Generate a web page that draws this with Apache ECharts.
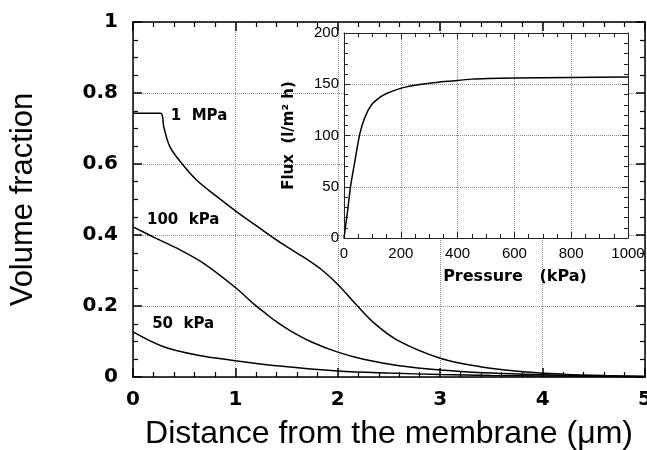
<!DOCTYPE html>
<html>
<head>
<meta charset="utf-8">
<script src="https://cdn.jsdelivr.net/npm/echarts@6/dist/echarts.min.js"></script>
<style>
  html, body { margin: 0; padding: 0; background: #fff; }
  #main { width: 647px; height: 450px; }
</style>
</head>
<body>
<div id="main"></div>
<script>
// volume fraction profiles (distance in um)
var dist1MPa = [0, 0.27, 0.3, 0.36, 0.475, 0.62, 0.82, 1.01, 1.2, 1.4, 1.54, 1.7, 1.86, 2.01, 2.17, 2.35, 2.58, 3.0, 3.39, 3.81, 4.2, 4.6, 5.0];
var vol1MPa = [0.743, 0.743, 0.705, 0.649, 0.602, 0.555, 0.508, 0.466, 0.427, 0.386, 0.360, 0.331, 0.298, 0.258, 0.207, 0.153, 0.104, 0.053, 0.029, 0.015, 0.008, 0.004, 0.002];

var dist100kPa = [0, 0.23, 0.46, 0.69, 1.0, 1.19, 1.3, 1.4, 1.55, 1.75, 2.0, 2.25, 2.6, 3.0, 3.5, 4.0, 4.5, 5.0];
var vol100kPa = [0.423, 0.39, 0.358, 0.32, 0.252, 0.203, 0.178, 0.156, 0.128, 0.098, 0.07, 0.05, 0.032, 0.02, 0.011, 0.006, 0.003, 0.001];

var dist50kPa = [0, 0.3, 0.62, 1.0, 1.43, 2.0, 2.5, 3.0, 3.5, 4.0, 4.5, 5.0];
var vol50kPa = [0.127, 0.085, 0.062, 0.046, 0.031, 0.017, 0.011, 0.007, 0.004, 0.003, 0.002, 0.001];

// inset: flux vs pressure
var pressure = [0, 12, 23, 39, 56, 74, 97, 125, 150, 199, 250, 302, 373, 450, 600, 800, 1000];
var flux = [0, 25, 50, 76, 102, 118, 130, 137, 141, 146, 149, 151, 153, 155, 156, 156.5, 157];

var curveNames = ['1  MPa', '100  kPa', '50  kPa'];
var labelAt = [[0.645, 0.735], [0.49, 0.442], [0.49, 0.149]];

var BOLD = '"DejaVu Sans", sans-serif';
var REG = '"Liberation Sans", Arial, sans-serif';

function pairs(xs, ys) {
  return xs.map(function (x, i) { return [x, ys[i]]; });
}

function frameAxis(extra) {
  var a = {
    axisLine: { show: true, onZero: false, lineStyle: { color: '#000', width: 1.5 } },
    axisTick: { show: true, inside: true, length: 9, lineStyle: { color: '#000', width: 1.5 } },
    minorTick: { show: true, length: 5, lineStyle: { color: '#000', width: 1.2 } },
    axisLabel: { show: false },
    splitLine: { show: false }
  };
  return Object.assign(a, extra);
}

function insetAxis(extra) {
  var a = {
    gridIndex: 1,
    z: 6,
    axisLine: { show: true, onZero: false, lineStyle: { color: '#222', width: 1 } },
    axisTick: { show: true, inside: true, length: 6, lineStyle: { color: '#222', width: 1 } },
    minorTick: { show: true, length: 4, lineStyle: { color: '#222', width: 1 } },
    axisLabel: { show: false },
    splitLine: { show: false }
  };
  return Object.assign(a, extra);
}

var dotted = { show: true, lineStyle: { color: '#888', type: 'dotted', width: 1 } };

var chart = echarts.init(document.getElementById('main'));

var option = {
  animation: false,
  backgroundColor: '#fff',
  grid: [
    { left: 133, top: 22, width: 512, height: 355, outerBoundsMode: 'none', containLabel: false },
    { left: 344, top: 33, width: 284, height: 205, outerBoundsMode: 'none', containLabel: false,
      show: true, backgroundColor: '#fff', borderWidth: 0, z: 5 }
  ],
  xAxis: [
    frameAxis({
      type: 'value', min: 0, max: 5, interval: 1, position: 'bottom',
      minorTick: { show: true, splitNumber: 5, length: 5, lineStyle: { color: '#000', width: 1.2 } },
      axisLabel: { show: true, margin: 13, color: '#000', fontFamily: BOLD, fontWeight: 'bold', fontSize: 20 },
      splitLine: dotted,
      name: 'Distance from the membrane (\u03bcm)',
      nameLocation: 'middle',
      nameGap: 41,
      nameTextStyle: { color: '#000', fontFamily: REG, fontSize: 32 }
    }),
    frameAxis({
      type: 'value', min: 0, max: 5, interval: 1, position: 'top',
      minorTick: { show: true, splitNumber: 5, length: 5, lineStyle: { color: '#000', width: 1.2 } }
    }),
    insetAxis({
      type: 'value', min: 0, max: 1000, interval: 200, position: 'bottom',
      minorTick: { show: true, splitNumber: 4, length: 4, lineStyle: { color: '#222', width: 1 } },
      axisLabel: {
        show: true, margin: 8, color: '#000', fontFamily: REG, fontSize: 15, showMaxLabel: true,
        formatter: function (v) { return String(v); }
      },
      splitLine: dotted,
      name: 'Pressure   (kPa)',
      nameLocation: 'middle',
      nameGap: 31,
      nameTextStyle: { color: '#000', fontFamily: BOLD, fontWeight: 'bold', fontSize: 16, padding: [0, 0, 0, 58] }
    }),
    insetAxis({
      type: 'value', min: 0, max: 1000, interval: 200, position: 'top',
      minorTick: { show: true, splitNumber: 4, length: 4, lineStyle: { color: '#222', width: 1 } }
    })
  ],
  yAxis: [
    frameAxis({
      type: 'value', min: 0, max: 1, interval: 0.2, position: 'left',
      minorTick: { show: true, splitNumber: 4, length: 5, lineStyle: { color: '#000', width: 1.2 } },
      axisLabel: { show: true, margin: 15, color: '#000', fontFamily: BOLD, fontWeight: 'bold', fontSize: 20 },
      splitLine: dotted,
      name: 'Volume fraction',
      nameLocation: 'middle',
      nameGap: 94,
      nameTextStyle: { color: '#000', fontFamily: REG, fontSize: 31 }
    }),
    frameAxis({
      type: 'value', min: 0, max: 1, interval: 0.2, position: 'right',
      minorTick: { show: true, splitNumber: 4, length: 5, lineStyle: { color: '#000', width: 1.2 } }
    }),
    insetAxis({
      type: 'value', min: 0, max: 200, interval: 50, position: 'left',
      minorTick: { show: true, splitNumber: 5, length: 4, lineStyle: { color: '#222', width: 1 } },
      axisLabel: { show: true, margin: 5, color: '#000', fontFamily: REG, fontSize: 15 },
      splitLine: dotted,
      name: 'Flux  (l/m\u00b2 h)',
      nameLocation: 'middle',
      nameGap: 47,
      nameTextStyle: { color: '#000', fontFamily: BOLD, fontWeight: 'bold', fontSize: 15 }
    }),
    insetAxis({
      type: 'value', min: 0, max: 200, interval: 50, position: 'right',
      minorTick: { show: true, splitNumber: 5, length: 4, lineStyle: { color: '#222', width: 1 } }
    })
  ],
  series: []
};

var profiles = [[dist1MPa, vol1MPa], [dist100kPa, vol100kPa], [dist50kPa, vol50kPa]];
profiles.forEach(function (p, i) {
  option.series.push({
    type: 'line',
    xAxisIndex: 0,
    yAxisIndex: 0,
    data: pairs(p[0], p[1]),
    smooth: 0.35,
    showSymbol: false,
    lineStyle: { color: '#000', width: 1.5 },
    markPoint: {
      symbol: 'circle',
      symbolSize: 0,
      data: [{ coord: labelAt[i] }],
      label: {
        show: true, position: 'inside', formatter: curveNames[i],
        color: '#000', fontFamily: BOLD, fontWeight: 'bold', fontSize: 15
      }
    }
  });
});

option.series.push({
  type: 'line',
  xAxisIndex: 2,
  yAxisIndex: 2,
  z: 7,
  data: pairs(pressure, flux),
  smooth: 0.25,
  showSymbol: false,
  lineStyle: { color: '#000', width: 1.5 }
});

chart.setOption(option);
</script>
</body>
</html>
